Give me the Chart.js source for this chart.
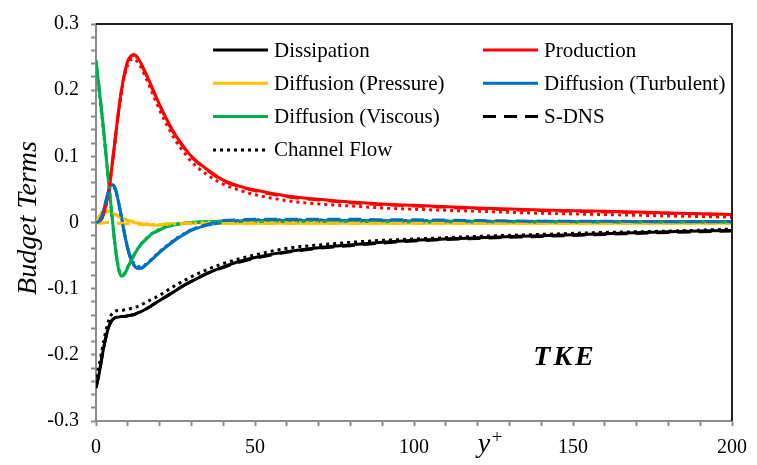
<!DOCTYPE html>
<html>
<head>
<meta charset="utf-8">
<script src="https://cdn.jsdelivr.net/npm/chart.js@4.4.1/dist/chart.umd.min.js"></script>
<style>
  html, body { margin: 0; padding: 0; background: #fff; }
  #wrap { width: 757px; height: 465px; }
</style>
</head>
<body>
<div id="wrap"><canvas id="tke" width="757" height="465"></canvas></div>
<script>
// y+ stations shared by every profile
const yPlus = [0, 1, 2, 3, 4, 5, 6, 7, 8, 9, 10, 11, 12, 13, 14, 16, 18, 20, 22, 25, 28, 30, 35, 40, 45, 50, 60, 70, 80, 90, 100, 120, 140, 160, 180, 200];

// present results (solid)
const dissipation = [-0.250, -0.228, -0.200, -0.176, -0.158, -0.148, -0.144, -0.143, -0.142, -0.142, -0.141, -0.140, -0.139, -0.137, -0.135, -0.130, -0.124, -0.118, -0.112, -0.103, -0.094, -0.089, -0.077, -0.067, -0.059, -0.053, -0.044, -0.038, -0.034, -0.030, -0.027, -0.023, -0.020, -0.017, -0.014, -0.012];
const production = [0, 0.001, 0.008, 0.024, 0.048, 0.085, 0.125, 0.165, 0.200, 0.226, 0.244, 0.252, 0.254, 0.250, 0.242, 0.222, 0.200, 0.178, 0.158, 0.132, 0.112, 0.100, 0.080, 0.064, 0.055, 0.049, 0.040, 0.035, 0.031, 0.028, 0.026, 0.022, 0.019, 0.017, 0.0145, 0.012];
const diffPressure = [0, 0.009, 0.016, 0.018, 0.017, 0.015, 0.012, 0.010, 0.007, 0.005, 0.003, 0.002, 0.000, -0.001, -0.002, -0.003, -0.004, -0.004, -0.003, -0.002, -0.001, -0.001, 0.000, -0.001, -0.001, -0.001, -0.001, -0.001, -0.001, -0.001, -0.001, -0.001, -0.001, -0.001, -0.001, -0.001];
const diffTurbulent = [0, 0.002, 0.012, 0.030, 0.048, 0.057, 0.052, 0.033, 0.008, -0.018, -0.040, -0.056, -0.065, -0.069, -0.069, -0.063, -0.054, -0.045, -0.037, -0.026, -0.017, -0.012, -0.004, 0.000, 0.002, 0.003, 0.003, 0.003, 0.003, 0.003, 0.002, 0.002, 0.001, 0.001, 0.001, 0.001];
const diffViscous = [0.245, 0.203, 0.158, 0.110, 0.060, 0.012, -0.035, -0.068, -0.081, -0.078, -0.068, -0.058, -0.049, -0.041, -0.034, -0.024, -0.016, -0.011, -0.007, -0.003, -0.001, 0.000, 0.001, 0.002, 0.002, 0.002, 0.002, 0.002, 0.002, 0.002, 0.001, 0.001, 0.001, 0.001, 0.001, 0.001];

// S-DNS (dashed)
const dnsDissipation = [-0.250, -0.228, -0.200, -0.176, -0.158, -0.148, -0.144, -0.143, -0.142, -0.142, -0.141, -0.140, -0.139, -0.137, -0.135, -0.130, -0.124, -0.118, -0.112, -0.103, -0.094, -0.089, -0.077, -0.068, -0.060, -0.054, -0.045, -0.039, -0.035, -0.031, -0.028, -0.024, -0.021, -0.018, -0.015, -0.013];
const dnsProduction = [0, 0.001, 0.008, 0.024, 0.048, 0.084, 0.124, 0.164, 0.199, 0.225, 0.243, 0.251, 0.253, 0.249, 0.241, 0.221, 0.199, 0.177, 0.157, 0.131, 0.111, 0.099, 0.079, 0.063, 0.054, 0.048, 0.039, 0.034, 0.030, 0.027, 0.025, 0.021, 0.018, 0.016, 0.014, 0.012];
const dnsDiffPressure = [0, -0.001, -0.001, 0.000, 0.000, 0.000, -0.001, -0.001, -0.001, -0.002, -0.002, -0.002, -0.003, -0.003, -0.003, -0.003, -0.003, -0.003, -0.002, -0.002, -0.001, -0.001, -0.001, -0.001, -0.001, -0.001, -0.001, -0.001, -0.001, -0.001, -0.001, -0.001, -0.001, -0.001, -0.001, -0.001];
const dnsDiffTurbulent = [0, 0.002, 0.012, 0.030, 0.048, 0.057, 0.052, 0.033, 0.008, -0.018, -0.040, -0.056, -0.065, -0.069, -0.069, -0.063, -0.054, -0.045, -0.037, -0.026, -0.017, -0.011, -0.003, 0.003, 0.004, 0.005, 0.005, 0.005, 0.005, 0.004, 0.004, 0.003, 0.002, 0.002, 0.001, 0.001];
const dnsDiffViscous = [0.245, 0.203, 0.158, 0.110, 0.060, 0.012, -0.035, -0.068, -0.081, -0.078, -0.068, -0.058, -0.049, -0.041, -0.034, -0.024, -0.016, -0.011, -0.007, -0.003, -0.001, 0.000, 0.001, 0.002, 0.002, 0.002, 0.002, 0.002, 0.002, 0.002, 0.002, 0.001, 0.001, 0.001, 0.001, 0.001];

// channel flow (dotted)
const chDissipation = [-0.234, -0.215, -0.190, -0.166, -0.148, -0.138, -0.134, -0.133, -0.133, -0.132, -0.131, -0.130, -0.129, -0.127, -0.125, -0.120, -0.115, -0.110, -0.104, -0.095, -0.087, -0.082, -0.071, -0.062, -0.055, -0.049, -0.039, -0.034, -0.030, -0.027, -0.025, -0.021, -0.018, -0.015, -0.013, -0.010];
const chProduction = [0, 0.001, 0.008, 0.023, 0.046, 0.082, 0.122, 0.162, 0.196, 0.222, 0.238, 0.246, 0.247, 0.243, 0.236, 0.215, 0.192, 0.170, 0.150, 0.124, 0.104, 0.092, 0.072, 0.058, 0.049, 0.042, 0.033, 0.028, 0.025, 0.022, 0.020, 0.017, 0.014, 0.012, 0.010, 0.008];
const chDiffPressure = [0, 0.008, 0.014, 0.016, 0.015, 0.013, 0.011, 0.009, 0.007, 0.005, 0.003, 0.002, 0.001, 0.000, -0.001, -0.002, -0.003, -0.003, -0.003, -0.002, -0.001, -0.001, 0.000, 0.000, 0.000, 0.000, 0.000, 0.000, 0.000, 0.000, 0.000, 0.000, 0.000, 0.000, 0.000, 0.000];
const chDiffTurbulent = [0, 0.002, 0.011, 0.028, 0.045, 0.054, 0.050, 0.032, 0.008, -0.017, -0.038, -0.053, -0.062, -0.066, -0.067, -0.062, -0.053, -0.044, -0.036, -0.025, -0.016, -0.011, -0.003, 0.001, 0.003, 0.004, 0.004, 0.004, 0.003, 0.003, 0.003, 0.002, 0.002, 0.001, 0.001, 0.001];
const chDiffViscous = [0.234, 0.196, 0.153, 0.107, 0.058, 0.012, -0.033, -0.065, -0.078, -0.076, -0.067, -0.057, -0.048, -0.040, -0.033, -0.023, -0.015, -0.010, -0.006, -0.003, -0.001, 0.000, 0.001, 0.002, 0.002, 0.002, 0.002, 0.002, 0.002, 0.002, 0.001, 0.001, 0.001, 0.001, 0.001, 0.001];

// tick labels
const xTickLabels = [0, 50, 100, 150, 200];
const yTickLabels = [0.3, 0.2, 0.1, 0, -0.1, -0.2, -0.3];

const BLACK = '#000000', RED = '#ff0000', YELLOW = '#ffc000', BLUE = '#0070c0', GREEN = '#00b050';
const DASHED = [13, 8];
const DOTTED = [3, 4];

function profile(values, color, dash) {
  return {
    data: values.map((v, i) => ({ x: yPlus[i], y: v })),
    borderColor: color,
    borderWidth: 3,
    borderDash: dash,
    pointRadius: 0,
    cubicInterpolationMode: 'monotone',
    fill: false
  };
}

// first dataset ends up on top
const datasets = [
  profile(dnsDiffTurbulent, BLUE, DASHED),
  profile(dnsDissipation, BLACK, DASHED),
  profile(dnsDiffPressure, YELLOW, DASHED),
  profile(chProduction, RED, DOTTED),
  profile(chDissipation, BLACK, DOTTED),
  profile(chDiffTurbulent, BLUE, DOTTED),
  profile(chDiffViscous, GREEN, DOTTED),
  profile(chDiffPressure, YELLOW, DOTTED),
  profile(dissipation, BLACK, []),
  profile(production, RED, []),
  profile(diffTurbulent, BLUE, []),
  profile(diffViscous, GREEN, []),
  profile(diffPressure, YELLOW, []),
  profile(dnsProduction, RED, DASHED),
  profile(dnsDiffViscous, GREEN, DASHED)
];

// legend entries, two columns
const legendItems = [
  { text: 'Dissipation', color: BLACK, dash: [] },
  { text: 'Production', color: RED, dash: [] },
  { text: 'Diffusion (Pressure)', color: YELLOW, dash: [] },
  { text: 'Diffusion (Turbulent)', color: BLUE, dash: [] },
  { text: 'Diffusion (Viscous)', color: GREEN, dash: [] },
  { text: 'S-DNS', color: BLACK, dash: DASHED },
  { text: 'Channel Flow', color: BLACK, dash: DOTTED }
];

const SERIF = '"Liberation Serif", "Times New Roman", serif';

const decorations = {
  id: 'decorations',
  afterDraw(chart) {
    const ctx = chart.ctx;
    const a = chart.chartArea;
    ctx.save();

    // dark frame on top and right
    ctx.strokeStyle = '#222';
    ctx.lineWidth = 2;
    ctx.beginPath();
    ctx.moveTo(a.left, a.top);
    ctx.lineTo(a.right, a.top);
    ctx.lineTo(a.right, a.bottom);
    ctx.stroke();

    // legend
    ctx.font = '21px ' + SERIF;
    ctx.textBaseline = 'middle';
    ctx.fillStyle = '#000';
    legendItems.forEach((item, i) => {
      const col = i % 2, row = Math.floor(i / 2);
      const x0 = col === 0 ? 213 : 483;
      const y = 50 + row * 33.3;
      ctx.strokeStyle = item.color;
      ctx.lineWidth = 3;
      ctx.setLineDash(item.dash);
      ctx.beginPath();
      ctx.moveTo(x0, y);
      ctx.lineTo(x0 + 55, y);
      ctx.stroke();
      ctx.setLineDash([]);
      ctx.textAlign = 'left';
      ctx.fillText(item.text, x0 + 61, y + 1);
    });

    // TKE tag
    ctx.font = 'italic bold 28px ' + SERIF;
    ctx.textAlign = 'center';
    ctx.textBaseline = 'alphabetic';
    ctx.letterSpacing = '3px';
    ctx.fillText('TKE', 565, 365);
    ctx.letterSpacing = '0px';

    // axis titles
    ctx.font = 'italic 28px ' + SERIF;
    ctx.textAlign = 'center';
    ctx.fillText('y', 484, 452);
    ctx.font = '18px ' + SERIF;
    ctx.fillText('+', 497, 443);

    ctx.translate(36, 218);
    ctx.rotate(-Math.PI / 2);
    ctx.font = 'italic 28px ' + SERIF;
    ctx.fillText('Budget Terms', 0, 0);
    ctx.restore();
  }
};

const tickFont = { family: SERIF, size: 20 };

new Chart(document.getElementById('tke'), {
  type: 'line',
  data: { datasets },
  options: {
    responsive: false,
    animation: false,
    devicePixelRatio: 1,
    layout: { padding: { top: 10, right: 19, left: 0, bottom: 0 } },
    plugins: { legend: { display: false }, tooltip: { enabled: false } },
    scales: {
      x: {
        type: 'linear',
        min: 0,
        max: 200,
        afterFit(scale) { scale.height = 44; },
        border: { color: '#8c8c8c', width: 2 },
        grid: { drawOnChartArea: false, drawTicks: true, tickLength: 5, tickColor: '#8c8c8c', tickWidth: 2 },
        ticks: {
          stepSize: 10,
          autoSkip: false,
          maxRotation: 0,
          padding: 10,
          color: '#000',
          font: tickFont,
          callback: (v) => xTickLabels.includes(v) ? String(v) : ''
        }
      },
      y: {
        type: 'linear',
        min: -0.3,
        max: 0.3,
        afterFit(scale) { scale.width = 96; },
        border: { color: '#8c8c8c', width: 2 },
        grid: { drawOnChartArea: false, drawTicks: true, tickLength: 5, tickColor: '#8c8c8c', tickWidth: 2 },
        ticks: {
          stepSize: 0.02,
          autoSkip: false,
          padding: 12,
          color: '#000',
          font: tickFont,
          callback: (v) => {
            const r = Math.round(v * 10) / 10;
            return Math.abs(v - r) < 1e-6 && yTickLabels.includes(r) ? String(r) : '';
          }
        }
      }
    }
  },
  plugins: [decorations]
});
</script>
</body>
</html>
